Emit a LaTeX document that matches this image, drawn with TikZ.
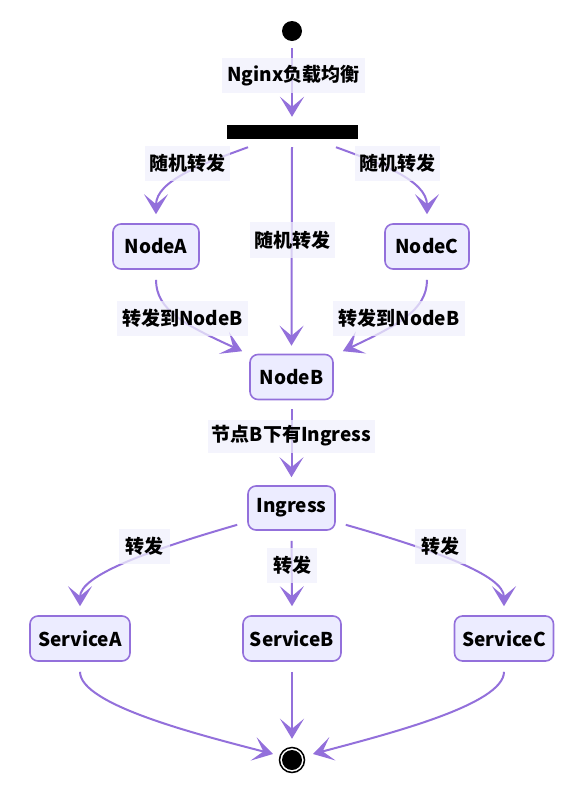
\documentclass[tikz,border=0pt]{standalone}
\usepackage{fontspec}
\setmainfont{Noto Sans CJK SC}
\usetikzlibrary{arrows.meta}
\definecolor{edgec}{RGB}{147,112,219}
\definecolor{nodefill}{RGB}{236,236,255}
\definecolor{lblbg}{RGB}{240,240,252}
\begin{document}
\begin{tikzpicture}[x=1pt,y=-1pt,
  every node/.style={font=\fontsize{19}{22}\selectfont\bfseries},
  state/.style={draw=edgec, line width=1.6pt, fill=nodefill, rounded corners=8pt, inner sep=0pt, minimum height=45pt},
  edge/.style={draw=edgec, line width=2pt, -{Stealth[length=20pt,width=24pt,inset=10pt]}},
  lbl/.style={fill=lblbg, fill opacity=0.75, text opacity=1, inner sep=0pt, minimum height=35pt},
]
\useasboundingbox (0,0) rectangle (585,785);

% nodes
\node[circle, fill=black, minimum size=20pt, inner sep=0pt] (start) at (292,31) {};
\node[fill=black, minimum width=131pt, minimum height=14pt, inner sep=0pt] (bar) at (292,132) {};
\node[state, minimum width=86pt] (A) at (156,246.5) {NodeA};
\node[state, minimum width=84pt] (C) at (427,246.5) {NodeC};
\node[state, minimum width=83pt] (B) at (291.5,377) {NodeB};
\node[state, minimum width=87pt, minimum height=44pt] (ing) at (291.5,508) {Ingress};
\node[state, minimum width=100pt] (sa) at (80,638.5) {ServiceA};
\node[state, minimum width=98pt] (sb) at (292,638.5) {ServiceB};
\node[state, minimum width=99pt] (sc) at (504,638.5) {ServiceC};
\node[circle, draw=black, line width=1.5pt, fill=white, minimum size=25pt, inner sep=0pt] (end) at (292,760) {};
\fill[black] (end.center) circle[radius=10pt];

% edges
\draw[edge, shorten <=7pt, shorten >=8pt] (start.south) -- (bar.north);
\draw[edge] ([xshift=-44pt,yshift=-8pt]bar.south) .. controls (205,163) and (156,180) .. ([yshift=9pt]A.north);
\draw[edge] ([xshift=44pt,yshift=-8pt]bar.south) .. controls (379,163) and (427,180) .. ([yshift=9pt]C.north);
\draw[edge] ([yshift=-8pt]bar.south) -- ([yshift=8pt]B.north);
\draw[edge] ([yshift=-10pt]A.south) .. controls (156,310) and (185,325) .. ([xshift=-7pt,yshift=2.5pt]B.north west);
\draw[edge] ([yshift=-10pt]C.south) .. controls (427,310) and (398,325) .. ([xshift=9pt,yshift=2.5pt]B.north east);
\draw[edge] ([yshift=-9pt]B.south) -- ([yshift=8pt]ing.north);
\draw[edge] ([xshift=-10pt,yshift=6pt]ing.south west) .. controls (150,550) and (80,575) .. ([yshift=9pt]sa.north);
\draw[edge] ([yshift=-10pt]ing.south) -- ([yshift=9pt]sb.north);
\draw[edge] ([xshift=10pt,yshift=6pt]ing.south east) .. controls (434,550) and (504,575) .. ([yshift=9pt]sc.north);
\draw[edge] ([yshift=-10pt]sa.south) .. controls (80,705) and (200,735) .. ([xshift=-19pt,yshift=6pt]end.center);
\draw[edge] ([yshift=-10pt]sb.south) -- ([yshift=8pt]end.north);
\draw[edge] ([yshift=-10pt]sc.south) .. controls (504,705) and (384,735) .. ([xshift=21pt,yshift=6pt]end.center);

% labels
\node[lbl, minimum width=143pt] (l0) at (293.5,75.5) {Nginx负载均衡};
\node[lbl, minimum width=85pt] (l1) at (187.5,163) {随机转发};
\node[lbl, minimum width=85pt] (l2) at (397,163) {随机转发};
\node[lbl, minimum width=85pt, minimum height=36pt] (l3) at (292.5,240) {随机转发};
\node[lbl, minimum width=131pt] (l4) at (182.5,318.5) {转发到NodeB};
\node[lbl, minimum width=132pt] (l5) at (399,318) {转发到NodeB};
\node[lbl, minimum width=167pt, minimum height=33pt] (l6) at (291.5,436) {节点B下有Ingress};
\node[lbl, minimum width=51pt] (l7) at (144.5,546) {转发};
\node[lbl, minimum width=50pt] (l8) at (292,565.5) {转发};
\node[lbl, minimum width=51pt] (l9) at (440,546) {转发};
\end{tikzpicture}
\end{document}
